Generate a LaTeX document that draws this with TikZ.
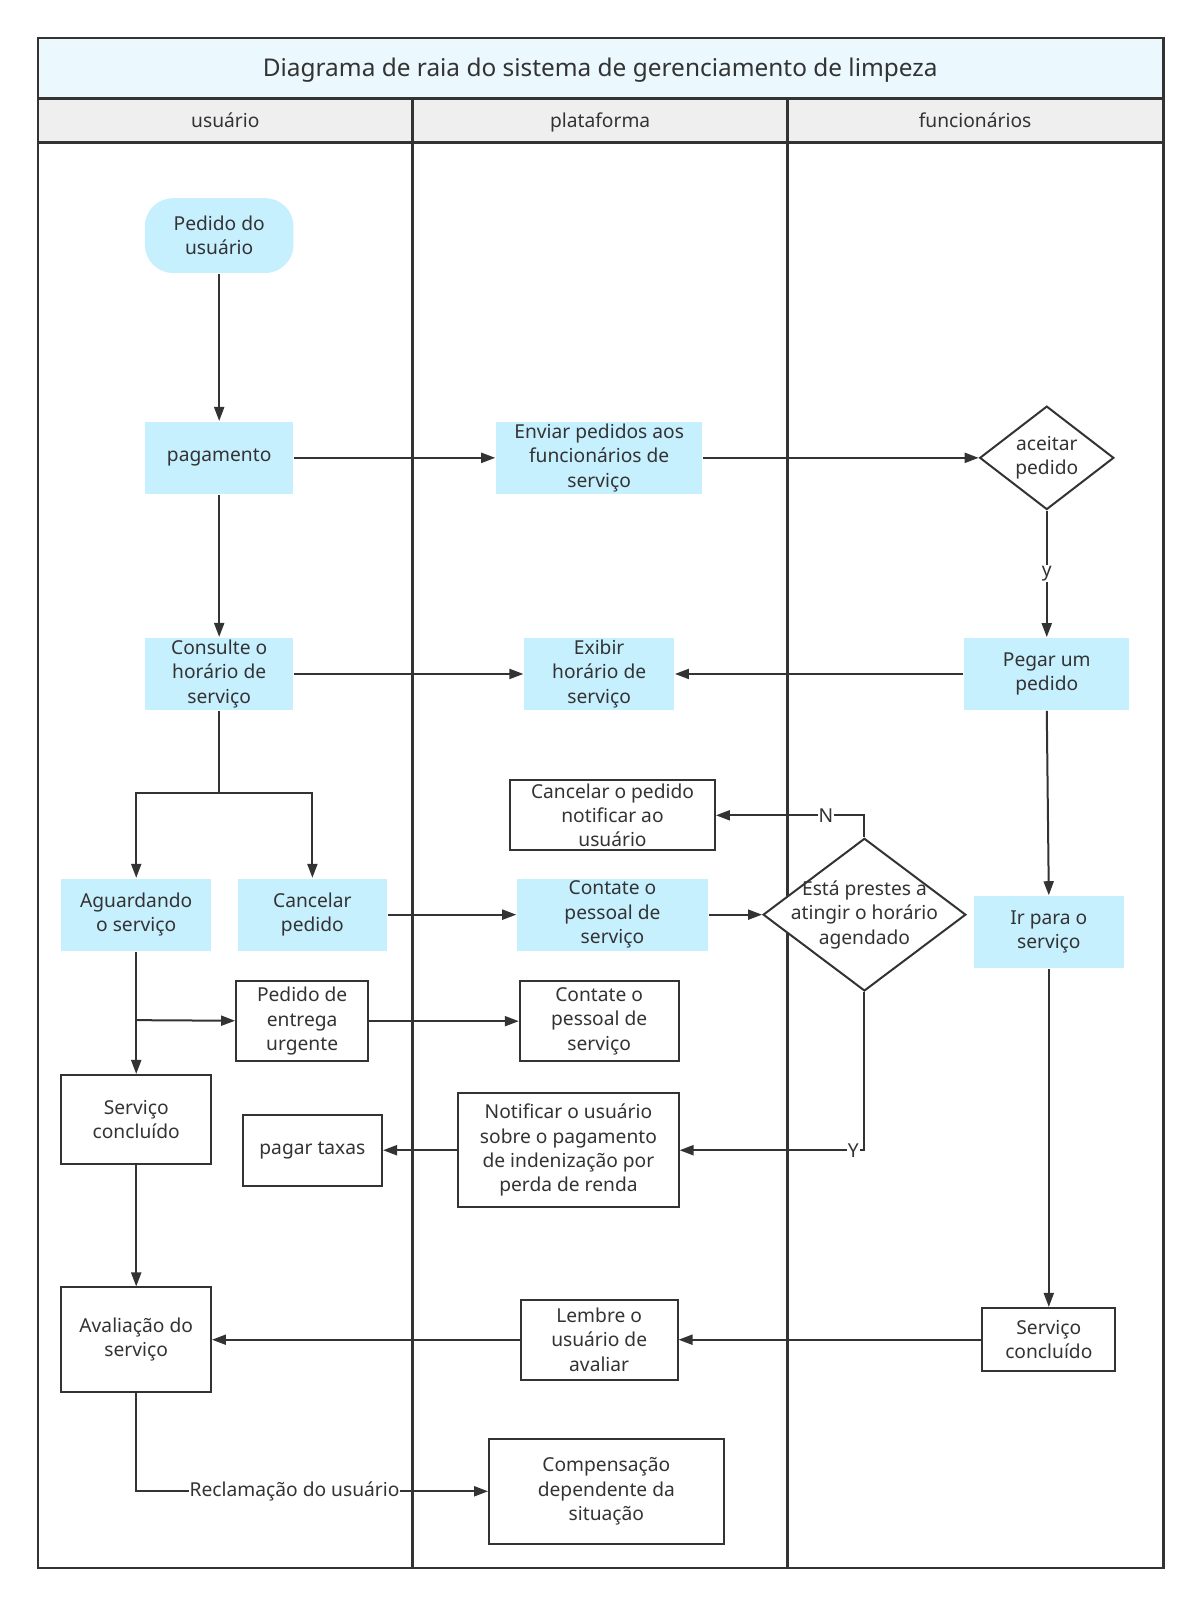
\documentclass[tikz,border=0pt]{standalone}
\usepackage{fontspec}
\setmainfont{Noto Sans}
\usepackage{xcolor}
\usetikzlibrary{shapes.geometric,arrows.meta,positioning}
\definecolor{ink}{HTML}{333333}

\begin{document}
\begin{tikzpicture}[
    x=0.512pt, y=-0.512pt,
    font=\fontsize{9.6}{12.2}\selectfont, color=ink, line width=1pt,
    sz/.style 2 args={minimum width=#1*0.512pt, minimum height=#2*0.512pt},
    cy/.style={draw=none, fill=cCyan, align=center, inner sep=1pt},
    wb/.style={draw, fill=white, align=center, inner sep=1pt},
    dec/.style={diamond, draw, fill=white, inner sep=0pt},
    arr/.style={-{Triangle[length=7pt,width=5pt]}},
    lbl/.style={fill=white, inner sep=0.5pt},
    hd/.style={anchor=base},
  ]
  \definecolor{cCyan}{HTML}{C7F0FF}\definecolor{cTitle}{HTML}{EBF8FD}
  \definecolor{cHead}{HTML}{EFEFEF}

  \useasboundingbox (0,0) rectangle (1172,1568);

  \fill[cTitle] (37,37) rectangle (1136,96);
  \fill[cHead] (37,96) rectangle (1136,139);
  \draw[line width=1.3pt] (37,37) rectangle (1136,1531);
  \draw[line width=1.3pt] (37,96) -- (1136,96) (37,139) -- (1136,139)
    (403,96) -- (403,1531) (769,96) -- (769,1531);

  \node[hd, font=\fontsize{12.2}{14}\selectfont] (ttl) at (586,75)
    {Diagrama de raia do sistema de gerenciamento de limpeza};
  \node[hd] (h1) at (220,124) {usuário};
  \node[hd] (h2) at (586,124) {plataforma};
  \node[hd] (h3) at (952,124) {funcionários};

  \node[cy, sz={145}{73}, rounded corners=14pt] (ped) at (214,230) {Pedido do\\usuário};
  \node[cy, sz={145}{70}] (pag) at (214,447) {pagamento};
  \node[cy, sz={201}{70}] (env) at (585,447) {Enviar pedidos aos\\funcionários de\\serviço};
  \node[dec, sz={131}{101}, label={[align=center]center:aceitar\\pedido}] (acp) at (1022,447) {};
  \node[cy, sz={161}{70}] (peg) at (1022,658) {Pegar um\\pedido};
  \node[cy, sz={146}{70}] (exi) at (585,658) {Exibir\\horário de\\serviço};
  \node[cy, sz={145}{70}] (con) at (214,658) {Consulte o\\horário de\\serviço};
  \node[wb, sz={200}{68}, inner sep=0pt] (cnt) at (598,796) {Cancelar o pedido\\notificar ao\\usuário};
  \node[cy, sz={146}{70}] (agu) at (133,893) {Aguardando\\o serviço};
  \node[cy, sz={146}{70}] (cap) at (305,893) {Cancelar\\pedido};
  \node[cy, sz={186}{70}] (ct1) at (598,893) {Contate o\\pessoal de\\serviço};
  \node[dec, sz={198}{149}, label={[align=center]center:Está prestes a\\atingir o horário\\agendado}] (est) at (844,893) {};
  \node[cy, sz={146}{70}] (irs) at (1024,910) {Ir para o\\serviço};
  \node[wb, sz={129}{78}] (urg) at (295,997) {Pedido de\\entrega\\urgente};
  \node[wb, sz={155}{78}] (ct2) at (585,997) {Contate o\\pessoal de\\serviço};
  \node[wb, sz={146}{87}] (sc1) at (133,1093) {Serviço\\concluído};
  \node[wb, sz={136}{69}] (tax) at (305,1123) {pagar taxas};
  \node[wb, sz={215}{111}] (ntf) at (555,1123) {Notificar o usuário\\sobre o pagamento\\de indenização por\\perda de renda};
  \node[wb, sz={130}{62}] (sc2) at (1024,1308) {Serviço\\concluído};
  \node[wb, sz={153}{78}] (lem) at (585,1308) {Lembre o\\usuário de\\avaliar};
  \node[wb, sz={146}{102}] (ava) at (133,1308) {Avaliação do\\serviço};
  \node[wb, sz={229}{102}] (cmp) at (592,1456) {Compensação\\dependente da\\situação};

  \coordinate (sp) at (214,774);
  \coordinate (sp2) at (133,996);

  \draw[arr] (ped) -- (pag);
  \draw[arr] (pag) -- (env);
  \draw[arr] (env) -- (acp);
  \draw[arr] (acp) -- node[lbl] {y} (peg);
  \draw[arr] (peg) -- (exi);
  \draw[arr] (con) -- (exi);
  \draw[arr] (pag) -- (con);
  \draw (con) -- (sp);
  \draw[arr] (sp) -| (agu);
  \draw[arr] (sp) -| (cap);
  \draw[arr] (cap) -- (ct1);
  \draw[arr] (ct1) -- (est);
  \draw[arr] (est.north) |- node[lbl, pos=0.63] {N} (cnt.east);
  \draw[arr] (est.south) |- node[lbl, pos=0.53] {Y} (ntf.east);
  \draw[arr] (peg.south) -- (irs.north);
  \draw[arr] (agu) -- (sc1);
  \draw[arr] (sp2) -- (urg);
  \draw[arr] (urg) -- (ct2);
  \draw[arr] (ntf) -- (tax);
  \draw[arr] (sc1) -- (ava);
  \draw[arr] (irs) -- (sc2);
  \draw[arr] (sc2) -- (lem);
  \draw[arr] (lem) -- (ava);
  \draw[arr] (ava.south) |- node[lbl, pos=0.725] {Reclamação do usuário} (cmp.west);
\end{tikzpicture}
\end{document}
